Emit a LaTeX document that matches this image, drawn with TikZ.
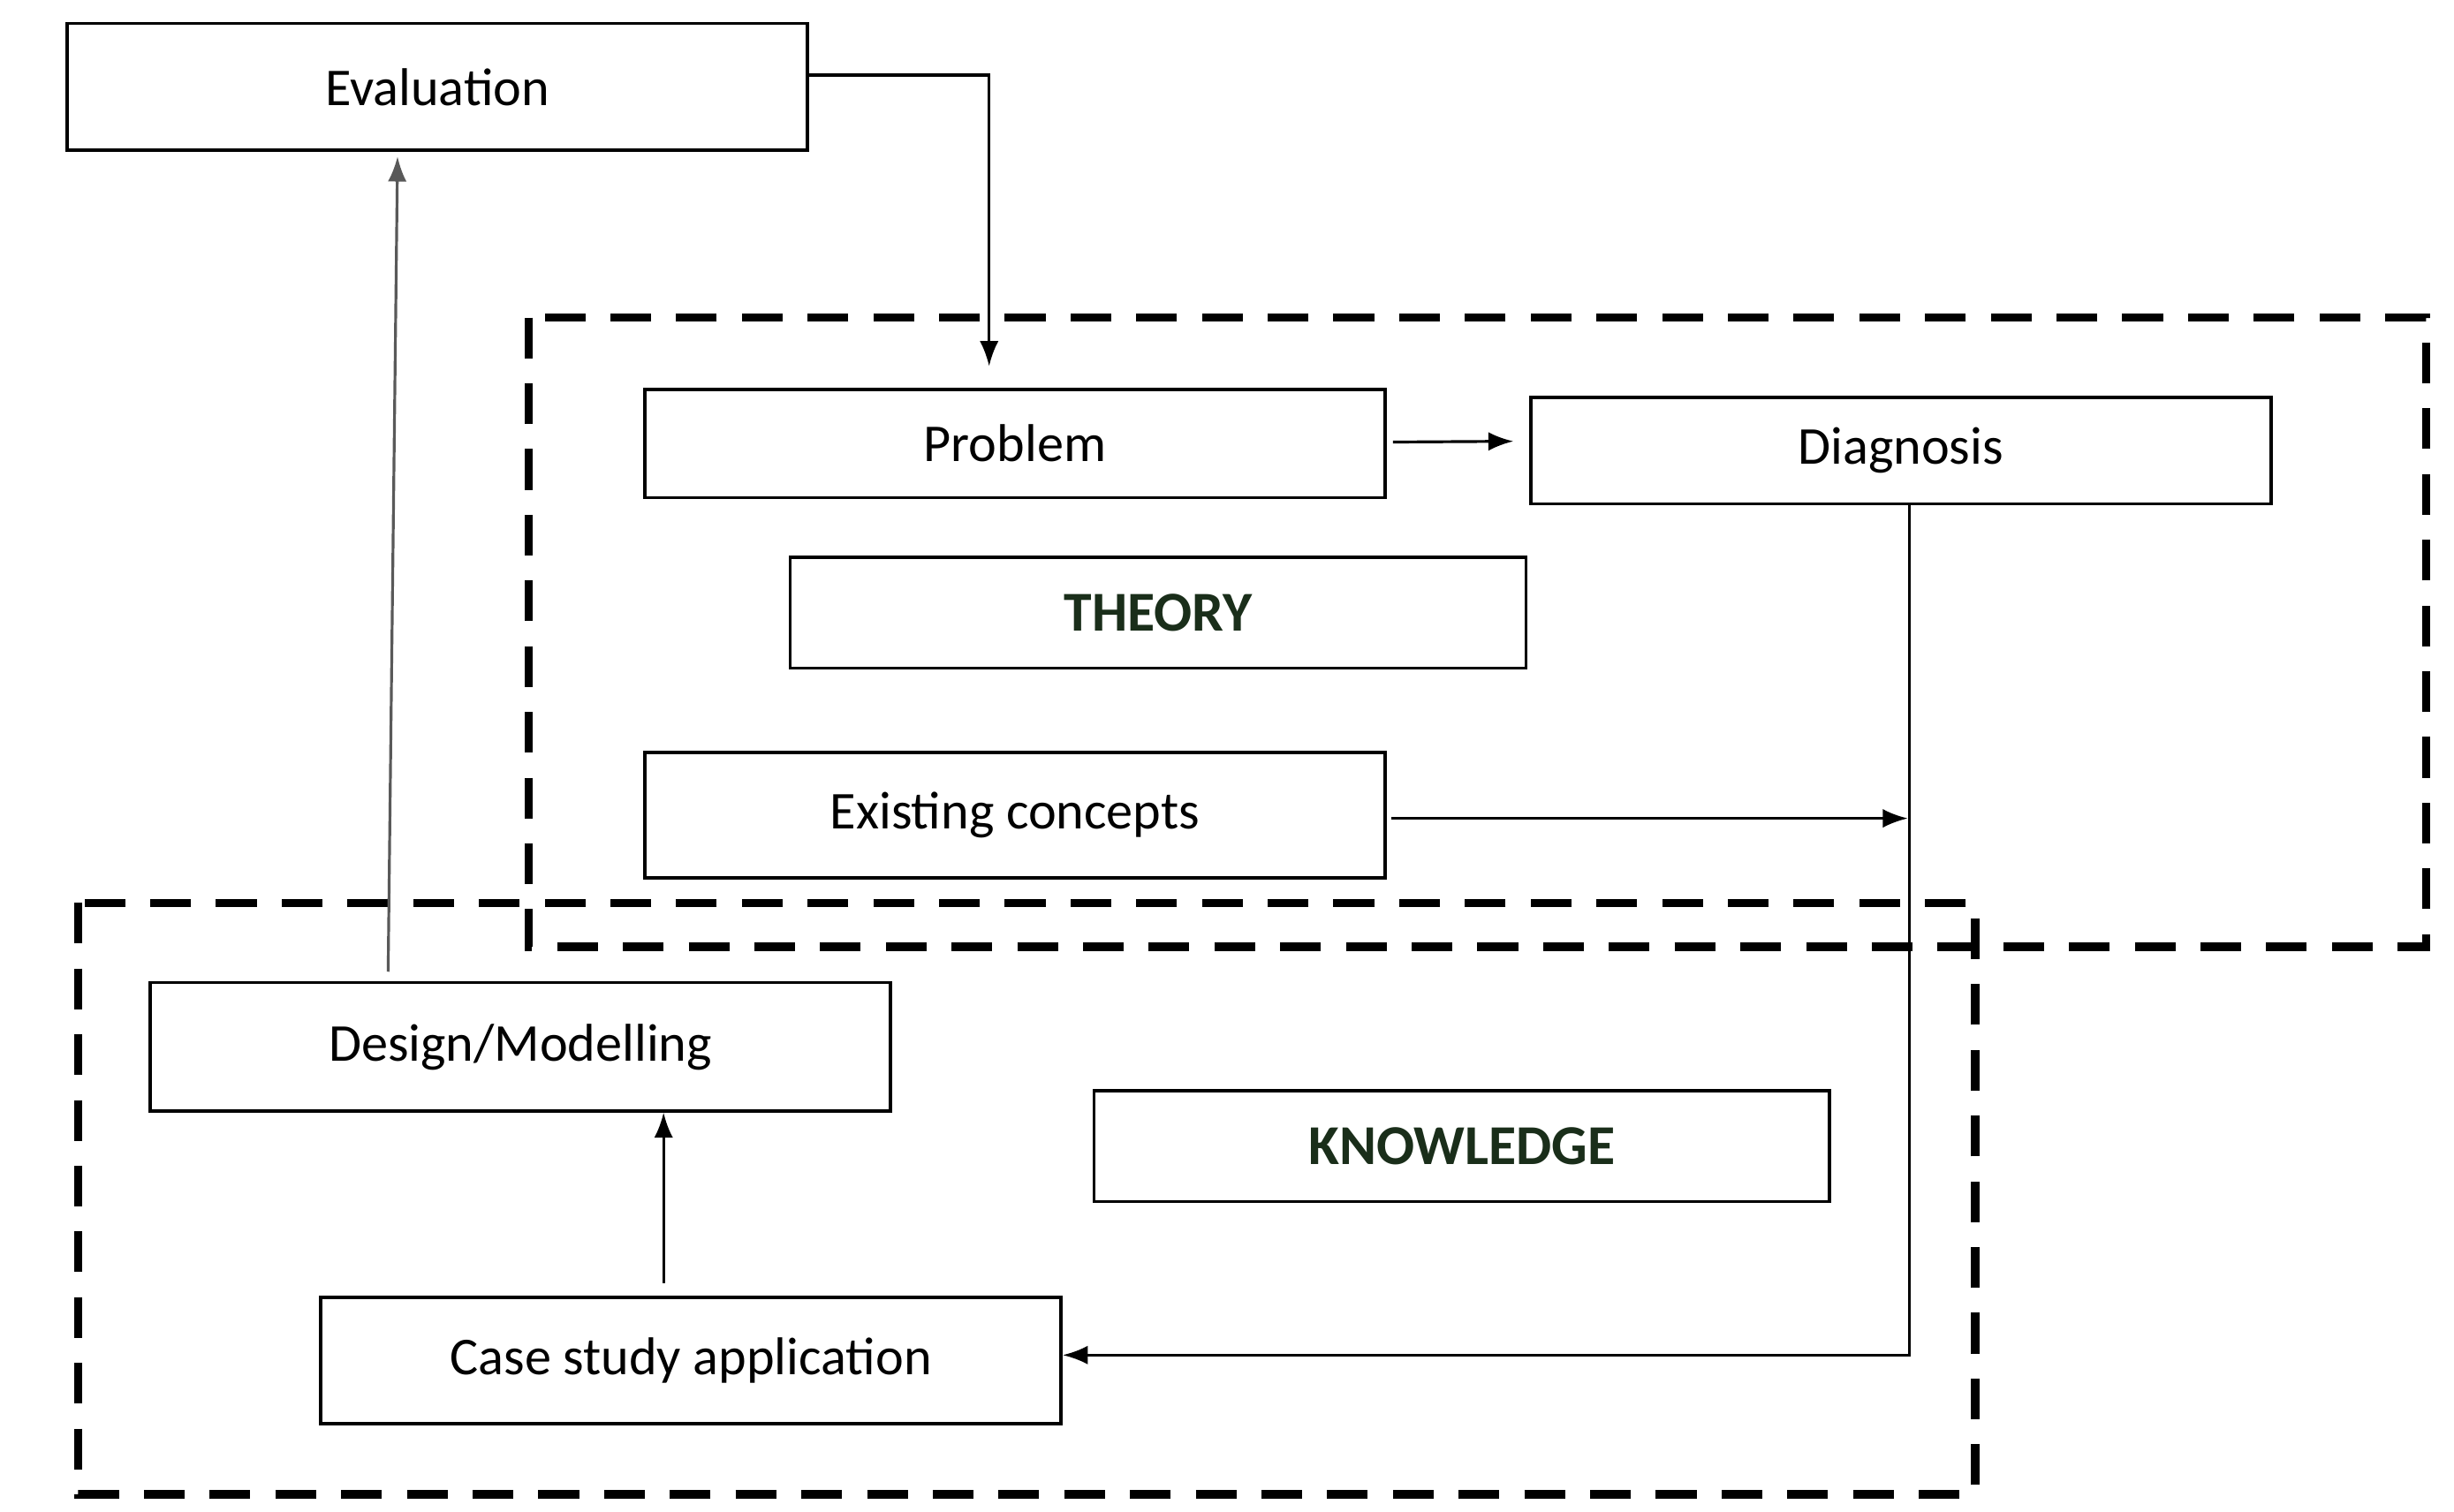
\documentclass[tikz,border=0pt]{standalone}
\usepackage{fontspec}
\setmainfont{Carlito}
\usetikzlibrary{arrows.meta}
\definecolor{dkgreen}{HTML}{1A2E1A}
\begin{document}
\begin{tikzpicture}[x=0.5pt,y=-0.5pt,
 box/.style={draw,line width=1pt,minimum width=236.5pt,inner sep=0pt,font=\fontsize{17}{20}\selectfont},
 bold/.style={box,font=\fontsize{18}{21}\selectfont\bfseries,text=dkgreen},
 zone/.style={line width=2.6pt,dash pattern=on 13pt off 8pt},
 arr/.style={line width=0.9pt,-{Latex[length=8pt,width=6pt]}}]
\useasboundingbox (0,0) rectangle (1568,966);
\draw[zone] (338,203) rectangle (1550,605);
\draw[zone] (50,577) rectangle (1262,955);
\node[box,minimum height=40.5pt] (eval) at (279.5,55.5) {Evaluation};
\node[box,minimum height=34.5pt] (prob) at (648.5,283.5) {Problem};
\node[box,minimum height=34pt] (diag) at (1214.5,288) {Diagnosis};
\node[bold,minimum width=235pt,minimum height=35.5pt] (theory) at (740,391.5) {THEORY};
\node[box,minimum height=40pt] (exist) at (648.5,521) {Existing concepts};
\node[box,minimum height=41pt] (design) at (332.5,669) {Design/Modelling};
\node[bold,minimum width=235pt,minimum height=35.5pt] (know) at (934,732.5) {KNOWLEDGE};
\node[box,minimum height=40.5pt] (case) at (441.5,869.5) {Case study application};
\coordinate (c1) at (632,48);
\coordinate (c2) at (632,234);
\coordinate (d1) at (1220,866);
\coordinate (e1) at (1219,523);
\draw[arr] (eval.east |- c1) -- (c1) -- (c2);
\draw[arr] (prob.east) ++(4,-1) -- (967,282);
\draw[arr] (diag.south -| d1) -- (d1) -- (case.east |- d1);
\draw[arr] (exist.east) ++(3,2) -- (e1);
\draw[arr] (case.north -| 424,0) ++(0,-8) -- (design.south -| 424,0);
\draw[arr,gray!70!black] (design.north -| 248,0) ++(0,-6) -- (254,100);
\end{tikzpicture}
\end{document}
